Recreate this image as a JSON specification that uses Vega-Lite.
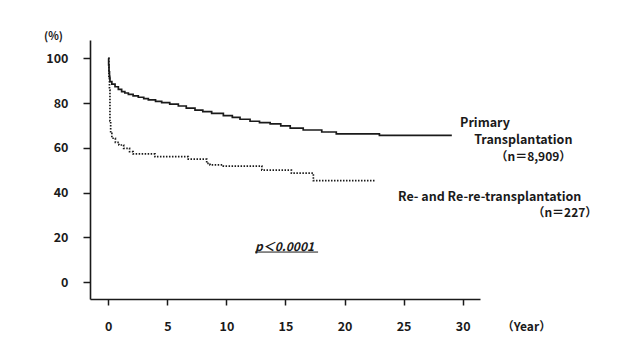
{
  "$schema": "https://vega.github.io/schema/vega-lite/v6.json",
  "width": 390,
  "height": 259,
  "autosize": "none",
  "padding": {"left": 90, "top": 40, "right": 145, "bottom": 59},
  "background": "white",
  "config": {
    "view": {"stroke": null},
    "font": "Noto Sans CJK JP",
    "axis": {"labelFont": "Noto Sans CJK JP", "titleFont": "Noto Sans CJK JP"}
  },
  "datasets": {
    "curves": [
      {"group": "Primary", "year": 0, "surv": 100},
      {"group": "Primary", "year": 0.03, "surv": 97},
      {"group": "Primary", "year": 0.06, "surv": 94},
      {"group": "Primary", "year": 0.1, "surv": 91.5},
      {"group": "Primary", "year": 0.14, "surv": 89.6},
      {"group": "Primary", "year": 0.3, "surv": 88.5},
      {"group": "Primary", "year": 0.57, "surv": 87.3},
      {"group": "Primary", "year": 0.85, "surv": 86.1},
      {"group": "Primary", "year": 1.13, "surv": 85.1},
      {"group": "Primary", "year": 1.4, "surv": 84.5},
      {"group": "Primary", "year": 1.7, "surv": 83.9},
      {"group": "Primary", "year": 2.1, "surv": 83.2},
      {"group": "Primary", "year": 2.54, "surv": 82.6},
      {"group": "Primary", "year": 3.0, "surv": 82.0},
      {"group": "Primary", "year": 3.39, "surv": 81.4},
      {"group": "Primary", "year": 4.0, "surv": 80.8},
      {"group": "Primary", "year": 4.52, "surv": 80.2},
      {"group": "Primary", "year": 5.2, "surv": 79.5},
      {"group": "Primary", "year": 5.93, "surv": 78.7},
      {"group": "Primary", "year": 6.6, "surv": 77.8},
      {"group": "Primary", "year": 7.34, "surv": 76.9},
      {"group": "Primary", "year": 8.0, "surv": 76.2},
      {"group": "Primary", "year": 8.75, "surv": 75.4},
      {"group": "Primary", "year": 9.74, "surv": 74.4},
      {"group": "Primary", "year": 10.5, "surv": 73.6},
      {"group": "Primary", "year": 11.15, "surv": 72.8},
      {"group": "Primary", "year": 12.0, "surv": 71.9},
      {"group": "Primary", "year": 12.8, "surv": 71.3},
      {"group": "Primary", "year": 13.7, "surv": 70.7},
      {"group": "Primary", "year": 14.6, "surv": 69.8},
      {"group": "Primary", "year": 15.4, "surv": 68.8},
      {"group": "Primary", "year": 16.5, "surv": 68.0},
      {"group": "Primary", "year": 18.07, "surv": 67.1},
      {"group": "Primary", "year": 19.3, "surv": 66.3},
      {"group": "Primary", "year": 22.95, "surv": 65.6},
      {"group": "Primary", "year": 29.08, "surv": 65.6},
      {"group": "Re", "year": 0, "surv": 100},
      {"group": "Re", "year": 0.05, "surv": 92},
      {"group": "Re", "year": 0.1, "surv": 85.8},
      {"group": "Re", "year": 0.14, "surv": 72},
      {"group": "Re", "year": 0.2, "surv": 66.5},
      {"group": "Re", "year": 0.3, "surv": 64.3},
      {"group": "Re", "year": 0.6, "surv": 62.5},
      {"group": "Re", "year": 0.9, "surv": 61.3},
      {"group": "Re", "year": 1.3, "surv": 59.8},
      {"group": "Re", "year": 1.8, "surv": 58.3},
      {"group": "Re", "year": 2.1, "surv": 57.3},
      {"group": "Re", "year": 3.95, "surv": 56.1},
      {"group": "Re", "year": 6.77, "surv": 55.0},
      {"group": "Re", "year": 8.33, "surv": 53.1},
      {"group": "Re", "year": 8.61, "surv": 52.4},
      {"group": "Re", "year": 9.74, "surv": 51.9},
      {"group": "Re", "year": 13.0, "surv": 50.1},
      {"group": "Re", "year": 15.5, "surv": 48.7},
      {"group": "Re", "year": 17.36, "surv": 45.4},
      {"group": "Re", "year": 22.65, "surv": 45.4}
    ],
    "leftLabels": [
      {"year": 29.78, "surv": 71.25, "text": "Primary"},
      {"year": 30.97, "surv": 63.5, "text": "Transplantation"},
      {"year": 24.53, "surv": 37.9, "text": "Re- and Re-re-transplantation"}
    ],
    "rightLabels": [
      {"year": 39.2, "surv": 56.1, "text": "（n＝8,909）"},
      {"year": 41.4, "surv": 30.8, "text": "（n＝227）"}
    ],
    "pval": [{"year": 12.42, "surv": 15.9, "text": "p＜0.0001"}],
    "underline": [{"year": 12.42, "year2": 17.76, "surv": 13.5}]
  },
  "layer": [
    {
      "data": {"name": "curves"},
      "mark": {"type": "line", "interpolate": "step-after", "strokeWidth": 1.7, "color": "#1a1a1a"},
      "encoding": {
        "x": {
          "field": "year", "type": "quantitative",
          "scale": {"domain": [-1.549, 31.466], "nice": false, "zero": false},
          "axis": {
            "values": [0, 5, 10, 15, 20, 25, 30],
            "grid": false,
            "domainColor": "#1a1a1a", "domainWidth": 1.6,
            "tickColor": "#1a1a1a", "tickWidth": 1.5, "tickSize": 6,
            "labelFontSize": 12.5, "labelFontWeight": "bold", "labelColor": "#1a1a1a",
            "labelPadding": 15,
            "title": "（Year）", "titleFontSize": 12, "titleFontWeight": "bold", "titleColor": "#1a1a1a",
            "titleX": 436, "titleY": 27, "titleAlign": "center", "titleBaseline": "middle"
          }
        },
        "y": {
          "field": "surv", "type": "quantitative",
          "scale": {"domain": [-7.46, 108.17], "nice": false, "zero": false},
          "axis": {
            "values": [0, 10, 20, 30, 40, 50, 60, 70, 80, 90, 100],
            "grid": false,
            "domainColor": "#1a1a1a", "domainWidth": 1.6,
            "tickColor": "#1a1a1a", "tickWidth": 1.5,
            "tickSize": {"condition": {"test": "datum.value % 20 !== 0", "value": 4}, "value": 7},
            "labelExpr": "datum.value % 20 === 0 ? datum.label : ''",
            "labelFontSize": 12.5, "labelFontWeight": "bold", "labelColor": "#1a1a1a",
            "labelPadding": 15,
            "title": "(%)", "titleAngle": 0, "titleFontSize": 11, "titleFontWeight": "bold", "titleColor": "#1a1a1a",
            "titleX": -37, "titleY": -4, "titleAlign": "center", "titleBaseline": "middle"
          }
        },
        "strokeDash": {
          "field": "group", "type": "nominal",
          "scale": {"domain": ["Primary", "Re"], "range": [[1, 0], [1.5, 1.5]]},
          "legend": null
        }
      }
    },
    {
      "data": {"name": "leftLabels"},
      "mark": {"type": "text", "align": "left", "baseline": "middle", "fontSize": 12.5, "fontWeight": "bold", "color": "#1a1a1a", "font": "Noto Sans CJK JP"},
      "encoding": {
        "x": {"field": "year", "type": "quantitative"},
        "y": {"field": "surv", "type": "quantitative"},
        "text": {"field": "text"}
      }
    },
    {
      "data": {"name": "rightLabels"},
      "mark": {"type": "text", "align": "right", "baseline": "middle", "fontSize": 12, "fontWeight": "bold", "color": "#1a1a1a", "font": "Noto Sans CJK JP"},
      "encoding": {
        "x": {"field": "year", "type": "quantitative"},
        "y": {"field": "surv", "type": "quantitative"},
        "text": {"field": "text"}
      }
    },
    {
      "data": {"name": "pval"},
      "mark": {"type": "text", "align": "left", "baseline": "middle", "fontSize": 12, "fontWeight": "bold", "fontStyle": "italic", "color": "#1a1a1a", "font": "Noto Sans CJK JP"},
      "encoding": {
        "x": {"field": "year", "type": "quantitative"},
        "y": {"field": "surv", "type": "quantitative"},
        "text": {"field": "text"}
      }
    },
    {
      "data": {"name": "underline"},
      "mark": {"type": "rule", "strokeWidth": 1, "color": "#1a1a1a"},
      "encoding": {
        "x": {"field": "year", "type": "quantitative"},
        "x2": {"field": "year2"},
        "y": {"field": "surv", "type": "quantitative"}
      }
    }
  ]
}
